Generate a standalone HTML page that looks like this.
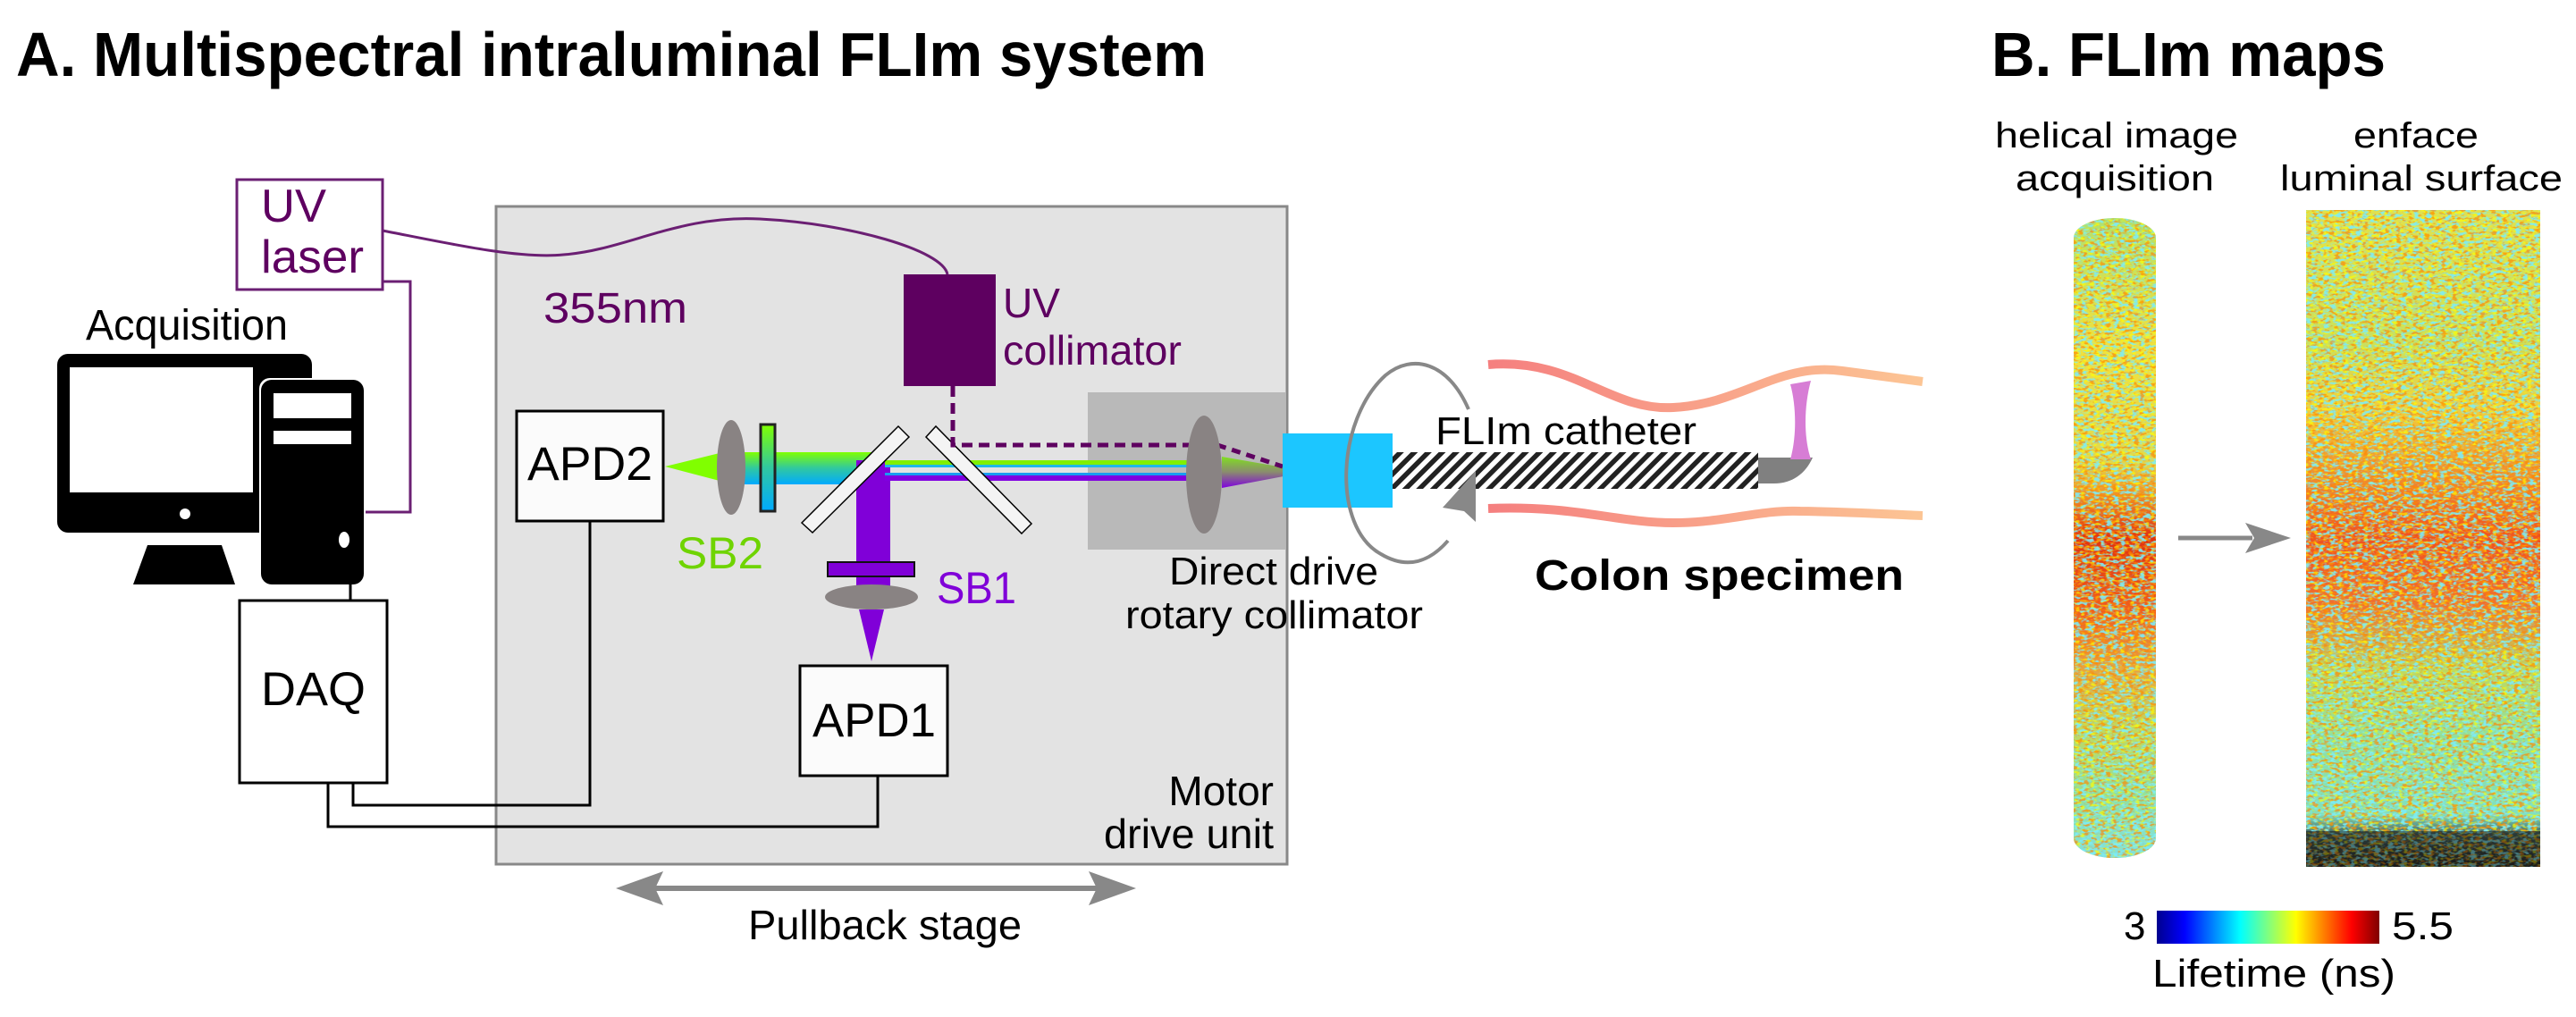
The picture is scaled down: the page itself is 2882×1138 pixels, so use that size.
<!DOCTYPE html>
<html><head><meta charset="utf-8"><style>
html,body{margin:0;padding:0;background:#fff;width:2882px;height:1138px;overflow:hidden}
svg{display:block}
text{font-family:"Liberation Sans",Arial,sans-serif}
</style></head><body>
<svg width="2882" height="1138" viewBox="0 0 2882 1138" xmlns="http://www.w3.org/2000/svg">
<defs>
<linearGradient id="beamV" x1="0" y1="0" x2="0" y2="1"><stop offset="0" stop-color="#80ff00"/><stop offset="0.5" stop-color="#30c8a0"/><stop offset="1" stop-color="#00aaff"/></linearGradient>
<linearGradient id="coneV" x1="0" y1="0" x2="0" y2="1"><stop offset="0" stop-color="#80e020"/><stop offset="0.5" stop-color="#8a8a70"/><stop offset="1" stop-color="#8000e0"/></linearGradient>
<linearGradient id="colon" x1="0" y1="0" x2="1" y2="0"><stop offset="0" stop-color="#f57f7f"/><stop offset="1" stop-color="#fcc594"/></linearGradient>
<linearGradient id="jet" x1="0" y1="0" x2="1" y2="0"><stop offset="0" stop-color="#00008f"/><stop offset="0.125" stop-color="#0000ff"/><stop offset="0.375" stop-color="#00ffff"/><stop offset="0.625" stop-color="#ffff00"/><stop offset="0.875" stop-color="#ff0000"/><stop offset="1" stop-color="#800000"/></linearGradient>
<linearGradient id="cyl" x1="0" y1="0" x2="0" y2="1">
<stop offset="0" stop-color="#b0e070"/><stop offset="0.2" stop-color="#f0e040"/><stop offset="0.38" stop-color="#e0d850"/><stop offset="0.42" stop-color="#f0a030"/><stop offset="0.5" stop-color="#e03010"/><stop offset="0.62" stop-color="#f06020"/><stop offset="0.7" stop-color="#e8a040"/><stop offset="0.8" stop-color="#c0d860"/><stop offset="0.9" stop-color="#90e0a0"/><stop offset="1" stop-color="#80e0e0"/></linearGradient>
<linearGradient id="enf" x1="0" y1="0" x2="0" y2="1">
<stop offset="0" stop-color="#e0e050"/><stop offset="0.2" stop-color="#c8e060"/><stop offset="0.3" stop-color="#f0d040"/><stop offset="0.4" stop-color="#f09030"/><stop offset="0.5" stop-color="#f05020"/><stop offset="0.6" stop-color="#f07030"/><stop offset="0.7" stop-color="#c0d860"/><stop offset="0.8" stop-color="#90e0a0"/><stop offset="0.92" stop-color="#80e0c0"/><stop offset="0.95" stop-color="#406060"/><stop offset="1" stop-color="#202020"/></linearGradient>
<filter id="noise" x="0" y="0" width="1" height="1"><feTurbulence type="fractalNoise" baseFrequency="0.14 0.3" numOctaves="2" seed="4"/><feColorMatrix type="matrix" values="0 0 0 0 0.2  0 0 0 0 0.85  0 0 0 0 0.95  6 0 0 0 -2.9"/></filter>
<filter id="noise2" x="0" y="0" width="1" height="1"><feTurbulence type="fractalNoise" baseFrequency="0.16 0.32" numOctaves="2" seed="9"/><feColorMatrix type="matrix" values="0 0 0 0 1  0 0 0 0 0.25  0 0 0 0 0  6 0 0 0 -3.1"/></filter>
<filter id="noise3" x="0" y="0" width="1" height="1"><feTurbulence type="fractalNoise" baseFrequency="0.18 0.35" numOctaves="1" seed="17"/><feColorMatrix type="matrix" values="0 0 0 0 1  0 0 0 0 1  0 0 0 0 0  6 0 0 0 -3.0"/></filter>
<pattern id="hatch" width="11" height="11" patternUnits="userSpaceOnUse" patternTransform="rotate(45)"><rect width="11" height="11" fill="#fff"/><rect width="5.5" height="11" fill="#222"/></pattern>
<clipPath id="cylc"><rect x="2320" y="244" width="92" height="716" rx="46" ry="22"/></clipPath>
</defs>

<text x="18" y="85" font-size="70" font-weight="bold" textLength="1332" lengthAdjust="spacingAndGlyphs">A. Multispectral intraluminal FLIm system</text>
<text x="2228" y="85" font-size="70" font-weight="bold" textLength="441" lengthAdjust="spacingAndGlyphs">B. FLIm maps</text>

<rect x="555" y="231" width="885" height="736" fill="#e3e3e3" stroke="#888" stroke-width="3"/>
<rect x="1217" y="439" width="221" height="176" fill="#b9b9b9"/>

<rect x="265" y="201" width="163" height="123" fill="#fff" stroke="#6b1f73" stroke-width="3"/>
<text x="292" y="248" font-size="52" fill="#5e0060" textLength="73" lengthAdjust="spacingAndGlyphs">UV</text>
<text x="292" y="305" font-size="52" fill="#5e0060" textLength="115" lengthAdjust="spacingAndGlyphs">laser</text>
<path d="M428,258 C500,272 580,290 630,285 C700,280 760,240 850,245 C950,250 1055,280 1060,307" fill="none" stroke="#6b1f73" stroke-width="3"/>
<polyline points="428,315 459,315 459,573 407,573" fill="none" stroke="#6b1f73" stroke-width="3"/>

<text x="96" y="380" font-size="48" textLength="226" lengthAdjust="spacingAndGlyphs">Acquisition</text>
<rect x="64" y="396" width="285" height="200" rx="12" fill="#000"/>
<rect x="78" y="411" width="205" height="140" fill="#fff"/>
<circle cx="207" cy="575" r="6" fill="#fff"/>
<polygon points="165,610 248,610 263,654 149,654" fill="#000"/>
<rect x="290" y="423" width="119" height="233" rx="12" fill="#fff"/>
<rect x="292" y="425" width="115" height="229" rx="12" fill="#000"/>
<rect x="306" y="440" width="87" height="28" fill="#fff"/>
<rect x="306" y="482" width="87" height="15" fill="#fff"/>
<ellipse cx="385" cy="604" rx="6" ry="9" fill="#fff"/>
<line x1="392" y1="654" x2="392" y2="672" stroke="#000" stroke-width="3"/>

<rect x="268" y="672" width="165" height="204" fill="#fff" stroke="#000" stroke-width="3"/>
<text x="292" y="789" font-size="53" textLength="117" lengthAdjust="spacingAndGlyphs">DAQ</text>
<polyline points="395,876 395,901 660,901 660,583" fill="none" stroke="#000" stroke-width="3"/>
<polyline points="367,876 367,925 982,925 982,868" fill="none" stroke="#000" stroke-width="3"/>

<rect x="578" y="460" width="164" height="123" fill="#fbfbfb" stroke="#000" stroke-width="3"/>
<text x="590" y="537" font-size="53" textLength="140" lengthAdjust="spacingAndGlyphs">APD2</text>
<rect x="895" y="745" width="165" height="123" fill="#fbfbfb" stroke="#000" stroke-width="3"/>
<text x="909" y="824" font-size="53" textLength="138" lengthAdjust="spacingAndGlyphs">APD1</text>

<text x="608" y="361" font-size="48" fill="#5e0060" textLength="161" lengthAdjust="spacingAndGlyphs">355nm</text>

<rect x="1011" y="307" width="103" height="125" fill="#5e0060"/>
<text x="1122" y="355" font-size="46" fill="#5e0060" textLength="64" lengthAdjust="spacingAndGlyphs">UV</text>
<text x="1122" y="408" font-size="46" fill="#5e0060" textLength="200" lengthAdjust="spacingAndGlyphs">collimator</text>

<rect x="803" y="506" width="180" height="36" fill="url(#beamV)"/>
<polygon points="744,522 805,507 805,538" fill="#80ff00"/>
<rect x="958" y="515" width="38" height="145" fill="#8000d8"/>
<rect x="990" y="515" width="340" height="5" fill="#80f000"/>
<rect x="990" y="520" width="340" height="3" fill="#20b8e8"/>
<rect x="990" y="529" width="340" height="3" fill="#1a9cf0"/>
<rect x="990" y="532" width="340" height="6" fill="#8000e0"/>
<polygon points="1367,511 1367,546 1436,533 1436,523" fill="url(#coneV)"/>

<ellipse cx="818" cy="523" rx="16" ry="53" fill="#898383"/>
<rect x="851" y="475" width="16" height="97" fill="url(#beamV)" stroke="#222" stroke-width="3"/>
<text x="757" y="636" font-size="50" fill="#6fd400" textLength="97" lengthAdjust="spacingAndGlyphs">SB2</text>

<polygon points="897,585 1005,477 1017,489 909,596" fill="#f4f4f4" stroke="#000" stroke-width="1.5"/>
<polygon points="1036,489 1047,477 1154,586 1143,597" fill="#f4f4f4" stroke="#000" stroke-width="1.5"/>

<rect x="926" y="629" width="97" height="16" fill="#8000d8" stroke="#111" stroke-width="2"/>
<ellipse cx="975" cy="668" rx="52" ry="14" fill="#898383"/>
<polygon points="961,682 989,682 975,740" fill="#8000d8"/>
<text x="1048" y="675" font-size="50" fill="#8000d8" textLength="89" lengthAdjust="spacingAndGlyphs">SB1</text>

<polyline points="1066,432 1066,498 1330,498" fill="none" stroke="#5e0060" stroke-width="5" stroke-dasharray="12,7"/>
<line x1="1362" y1="498" x2="1435" y2="522" stroke="#5e0060" stroke-width="5" stroke-dasharray="10,7"/>
<ellipse cx="1347" cy="531" rx="20" ry="66" fill="#898383"/>

<text x="1308" y="654" font-size="44" textLength="234" lengthAdjust="spacingAndGlyphs">Direct drive</text>
<text x="1259" y="703" font-size="44" textLength="333" lengthAdjust="spacingAndGlyphs">rotary collimator</text>
<text x="1425" y="901" font-size="46" text-anchor="end">Motor</text>
<text x="1425" y="949" font-size="46" text-anchor="end" textLength="190" lengthAdjust="spacingAndGlyphs">drive unit</text>

<line x1="715" y1="994" x2="1245" y2="994" stroke="#888" stroke-width="6"/>
<polygon points="689,994 742,975 733,994 742,1013" fill="#888"/>
<polygon points="1271,994 1218,975 1227,994 1218,1013" fill="#888"/>
<text x="837" y="1051" font-size="46" textLength="306" lengthAdjust="spacingAndGlyphs">Pullback stage</text>

<rect x="1435" y="485" width="123" height="83" fill="#1cc6ff"/>
<rect x="1558" y="506" width="409" height="41" fill="url(#hatch)"/>
<path d="M1967,512 L2028,512 C2020,530 2005,541 1985,541 L1967,541 Z" fill="#808080"/>
<path d="M2003,430 L2026,426 C2018,455 2018,490 2026,514 L2003,514 C2010,490 2010,455 2003,430 Z" fill="#d77dd5"/>
<path d="M1643,458 C1620,405 1580,395 1550,420 C1495,470 1490,590 1545,620 C1575,638 1600,628 1620,605" fill="none" stroke="#888" stroke-width="4"/>
<polygon points="1651,527 1651,584 1638,572 1614,568" fill="#888"/>
<text x="1606" y="497" font-size="44" textLength="292" lengthAdjust="spacingAndGlyphs">FLIm catheter</text>
<path d="M1665,408 C1760,400 1800,460 1872,456 C1950,452 1990,405 2061,415 C2100,420 2130,424 2151,427" fill="none" stroke="url(#colon)" stroke-width="10"/>
<path d="M1665,569 C1760,565 1810,585 1872,585 C1930,585 1970,570 2014,572 C2080,573 2120,576 2151,577" fill="none" stroke="url(#colon)" stroke-width="10"/>
<text x="1717" y="660" font-size="48" font-weight="bold" textLength="413" lengthAdjust="spacingAndGlyphs">Colon specimen</text>

<text x="2232" y="165" font-size="40" textLength="272" lengthAdjust="spacingAndGlyphs">helical image</text>
<text x="2255" y="213" font-size="40" textLength="222" lengthAdjust="spacingAndGlyphs">acquisition</text>
<text x="2633" y="165" font-size="40" textLength="140" lengthAdjust="spacingAndGlyphs">enface</text>
<text x="2551" y="213" font-size="40" textLength="316" lengthAdjust="spacingAndGlyphs">luminal surface</text>

<g clip-path="url(#cylc)">
<rect x="2320" y="244" width="92" height="716" fill="url(#cyl)"/>
<rect x="2320" y="244" width="92" height="716" filter="url(#noise3)" opacity="0.7"/>
<rect x="2320" y="244" width="92" height="716" filter="url(#noise)" opacity="0.9"/>
<rect x="2320" y="244" width="92" height="716" filter="url(#noise2)" opacity="0.7"/>
</g>
<line x1="2437" y1="602" x2="2520" y2="602" stroke="#888" stroke-width="5"/>
<polygon points="2563,602 2512,585 2522,602 2512,619" fill="#888"/>
<rect x="2580" y="235" width="262" height="735" fill="url(#enf)"/>
<rect x="2580" y="235" width="262" height="735" filter="url(#noise3)" opacity="0.7"/>
<rect x="2580" y="235" width="262" height="735" filter="url(#noise)" opacity="0.9"/>
<rect x="2580" y="235" width="262" height="735" filter="url(#noise2)" opacity="0.7"/>
<rect x="2580" y="930" width="262" height="40" fill="#111" opacity="0.5"/>

<rect x="2413" y="1019" width="249" height="37" fill="url(#jet)"/>
<text x="2376" y="1051" font-size="44">3</text>
<text x="2676" y="1051" font-size="44" textLength="69" lengthAdjust="spacingAndGlyphs">5.5</text>
<text x="2408" y="1104" font-size="44" textLength="272" lengthAdjust="spacingAndGlyphs">Lifetime (ns)</text>
</svg>
</body></html>
